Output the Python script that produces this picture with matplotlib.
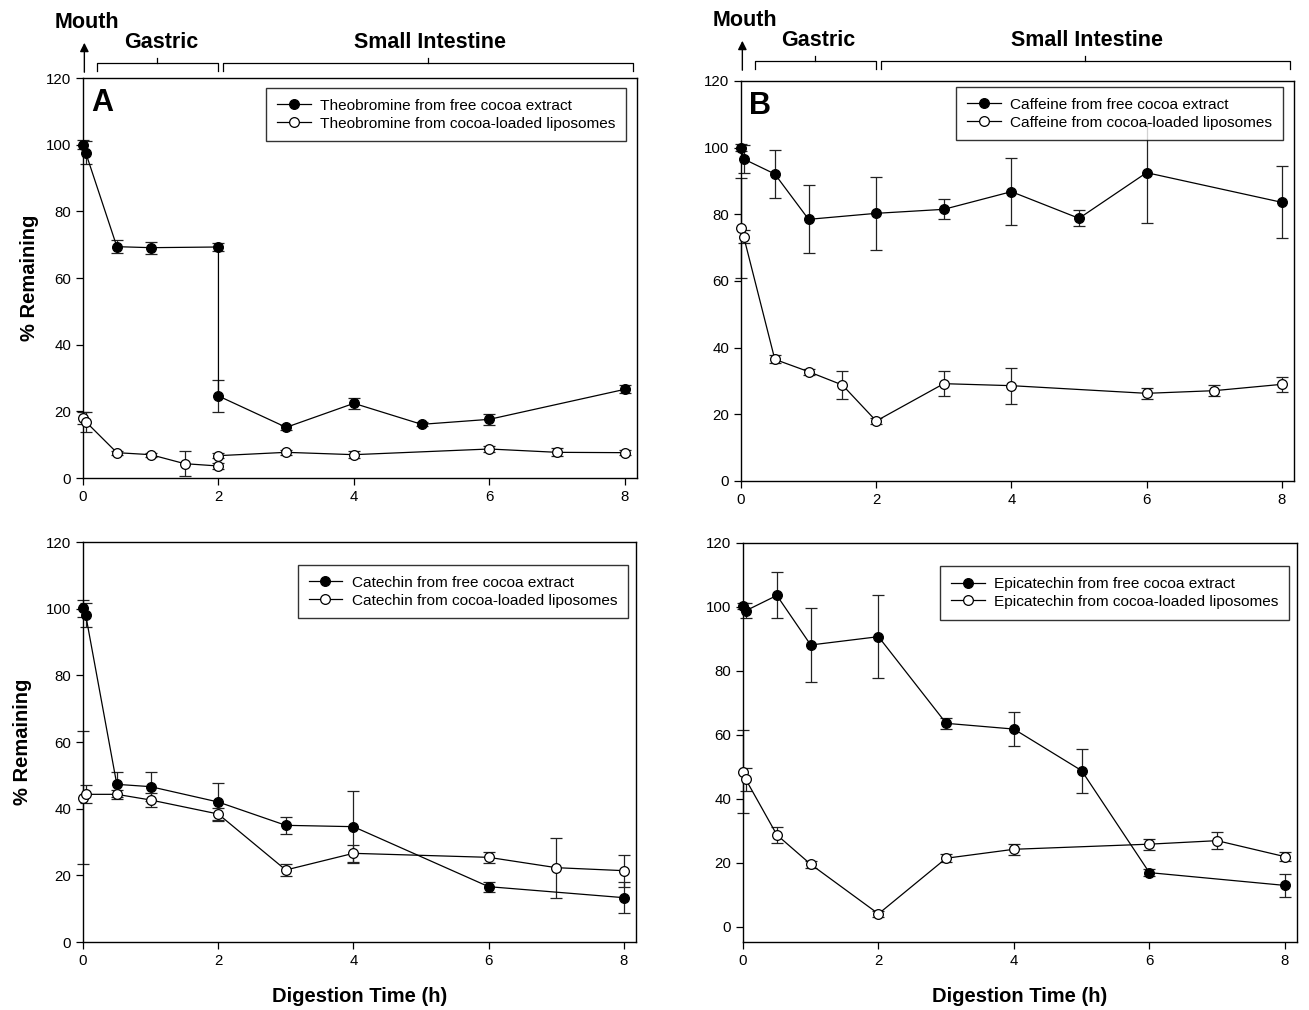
import numpy as np
import matplotlib
matplotlib.use("Agg")
import matplotlib.pyplot as plt
import matplotlib.transforms as mtransforms

plt.rcParams['font.family'] = ['Liberation Sans', 'DejaVu Sans']

# ---- data ----
# A: theobromine
theo_free_x = [0, 0.04, 0.5, 1, 2, 2, 3, 4, 5, 6, 8]
theo_free_y = [100.0, 97.6, 69.4, 69.1, 69.3, 24.6, 15.2, 22.4, 16.1, 17.6, 26.6]
theo_free_e = [1.3, 3.5, 1.9, 1.8, 1.2, 4.8, 0.8, 1.7, 0.6, 1.7, 1.2]
theo_lipo_x = [0, 0.04, 0.5, 1, 1.5, 2, 2, 3, 4, 6, 7, 8]
theo_lipo_y = [18.1, 16.9, 7.6, 7.0, 4.3, 3.6, 6.7, 7.7, 7.0, 8.7, 7.7, 7.6]
theo_lipo_e = [1.8, 3.0, 0.6, 0.6, 3.7, 0.8, 0.8, 0.8, 1.0, 0.8, 1.2, 0.8]

# B: caffeine
caf_free_x = [0, 0.04, 0.5, 1, 2, 3, 4, 5, 6, 8]
caf_free_y = [100.0, 96.6, 92.1, 78.5, 80.3, 81.5, 86.8, 78.8, 92.5, 83.6]
caf_free_e = [1.0, 4.3, 7.2, 10.2, 11.0, 3.0, 10.1, 2.4, 15.0, 10.8]
caf_lipo_x = [0, 0.04, 0.5, 1, 1.5, 2, 3, 4, 6, 7, 8]
caf_lipo_y = [75.8, 73.3, 36.5, 32.8, 28.8, 18.0, 29.2, 28.6, 26.3, 27.1, 29.0]
caf_lipo_e = [15.0, 1.9, 1.2, 0.9, 4.1, 1.0, 3.75, 5.35, 1.65, 1.6, 2.25]

# C: catechin
cat_free_x = [0, 0.04, 0.5, 1, 2, 3, 4, 6, 8]
cat_free_y = [100.1, 98.1, 47.3, 46.6, 42.0, 35.0, 34.6, 16.6, 13.3]
cat_free_e = [2.6, 3.5, 3.7, 4.3, 5.8, 2.6, 10.8, 1.5, 4.7]
cat_lipo_x = [0, 0.04, 0.5, 1, 2, 3, 4, 6, 7, 8]
cat_lipo_y = [43.3, 44.3, 44.3, 42.6, 38.4, 21.6, 26.6, 25.4, 22.3, 21.4]
cat_lipo_e = [20.0, 2.7, 1.25, 2.1, 1.9, 1.9, 2.6, 1.6, 9.0, 4.8]

# D: epicatechin
epi_free_x = [0, 0.04, 0.5, 1, 2, 3, 4, 5, 6, 8]
epi_free_y = [100.3, 98.8, 103.6, 88.1, 90.7, 63.6, 61.8, 48.8, 16.9, 12.9]
epi_free_e = [1.0, 2.3, 7.2, 11.6, 13.0, 1.7, 5.2, 6.9, 1.2, 3.6]
epi_lipo_x = [0, 0.04, 0.5, 1, 2, 3, 4, 6, 7, 8]
epi_lipo_y = [48.5, 46.1, 28.7, 19.5, 4.0, 21.4, 24.2, 25.8, 26.9, 21.9]
epi_lipo_e = [13.0, 3.6, 2.5, 1.0, 1.0, 1.3, 1.7, 1.7, 2.7, 1.5]

x_ticks = [0, 2, 4, 6, 8]
y_ticks = [0, 20, 40, 60, 80, 100, 120]
gastric_span = (0.2, 2.0)
intestine_span = (2.07, 8.12)


def draw_series(ax, x, y, e, filled, label):
    eb = ax.errorbar(x, y, yerr=e, fmt='none', ecolor='#222222', elinewidth=0.9,
                     capsize=4, capthick=0.9, zorder=2)
    for art in eb.get_children():
        art.set_clip_on(False)
    ax.plot(x, y, '-', color='black', lw=0.9, marker='o', markersize=7,
            markerfacecolor='black' if filled else 'white',
            markeredgecolor='black', markeredgewidth=0.9,
            label=label, clip_on=False, zorder=3)


def setup_axes(ax, ylim):
    ax.set_xlim(0, 8.18)
    ax.set_ylim(*ylim)
    ax.set_xticks(x_ticks)
    ax.set_yticks(y_ticks)
    ax.tick_params(direction='out', length=5, width=0.9, labelsize=10.8,
                   top=False, right=False)
    for s in ax.spines.values():
        s.set_linewidth(1.0)
        s.set_color('black')


def draw_regions(ax, base, tag):
    trans = mtransforms.blended_transform_factory(ax.transData, ax.transAxes)
    for lo, hi in [gastric_span, intestine_span]:
        mid = (lo + hi) / 2
        ax.plot([lo, lo, hi, hi], [base - 0.02, base, base, base - 0.02],
                color='black', lw=0.9, transform=trans, clip_on=False)
        ax.plot([mid, mid], [base, base + 0.0125], color='black', lw=0.9,
                transform=trans, clip_on=False)
    ax.annotate('', xy=(0.02, base + 0.0575), xytext=(0.02, base - 0.03),
                xycoords=trans, textcoords=trans,
                arrowprops=dict(arrowstyle='-|>', color='black', lw=1.0,
                                mutation_scale=13))
    ax.text(0.06, base + 0.1, 'Mouth', transform=trans, ha='center',
            va='center', fontsize=15.5, fontweight='bold')
    ax.text(sum(gastric_span) / 2 + 0.05, base + 0.05, 'Gastric', transform=trans,
            ha='center', va='center', fontsize=15.5, fontweight='bold')
    ax.text(sum(intestine_span) / 2 + 0.03, base + 0.05, 'Small Intestine',
            transform=trans, ha='center', va='center', fontsize=15.5,
            fontweight='bold')
    ax.text(0.0145, 0.975, tag, transform=ax.transAxes, ha='left', va='top',
            fontsize=22, fontweight='bold')


fig = plt.figure(figsize=(13.09, 10.10), dpi=100)
axA = fig.add_axes([83 / 1309, 1 - 478 / 1010, 554 / 1309, 400 / 1010])
axB = fig.add_axes([741 / 1309, 1 - 481 / 1010, 553 / 1309, 400 / 1010])
axC = fig.add_axes([83 / 1309, 1 - 942 / 1010, 553 / 1309, 400 / 1010])
axD = fig.add_axes([743 / 1309, 1 - 942 / 1010, 554 / 1309, 399 / 1010])

panels = [
    (axA, (0, 120), 'Theobromine', theo_free_x, theo_free_y, theo_free_e,
     theo_lipo_x, theo_lipo_y, theo_lipo_e, (0.98, 0.975)),
    (axB, (0, 120), 'Caffeine', caf_free_x, caf_free_y, caf_free_e,
     caf_lipo_x, caf_lipo_y, caf_lipo_e, (0.98, 0.985)),
    (axC, (0, 120), 'Catechin', cat_free_x, cat_free_y, cat_free_e,
     cat_lipo_x, cat_lipo_y, cat_lipo_e, (0.9855, 0.9425)),
    (axD, (-4.8, 120), 'Epicatechin', epi_free_x, epi_free_y, epi_free_e,
     epi_lipo_x, epi_lipo_y, epi_lipo_e, (0.9855, 0.942)),
]

for ax, ylim, name, fx, fy, fe, lx, ly, le, anchor in panels:
    setup_axes(ax, ylim)
    draw_series(ax, fx, fy, fe, True, f'{name} from free cocoa extract')
    draw_series(ax, lx, ly, le, False, f'{name} from cocoa-loaded liposomes')
    leg = ax.legend(loc='upper right', bbox_to_anchor=anchor, fontsize=11.1,
                    frameon=True, fancybox=False, edgecolor='black',
                    borderaxespad=0, borderpad=0.7, handlelength=2.2,
                    handletextpad=0.6, labelspacing=0.25)
    leg.get_frame().set_linewidth(1.0)

draw_regions(axA, 1.0375, 'A')
draw_regions(axB, 1.05, 'B')

axA.set_ylabel('% Remaining', fontsize=14.5, fontweight='bold')
axA.yaxis.set_label_coords(-0.079, 0.5)
axC.set_ylabel('% Remaining', fontsize=14.5, fontweight='bold')
axC.yaxis.set_label_coords(-0.092, 0.5)
for ax in (axC, axD):
    ax.set_xlabel('Digestion Time (h)', fontsize=14.5, fontweight='bold',
                  labelpad=14)

fig.savefig('out.png', dpi=100)
